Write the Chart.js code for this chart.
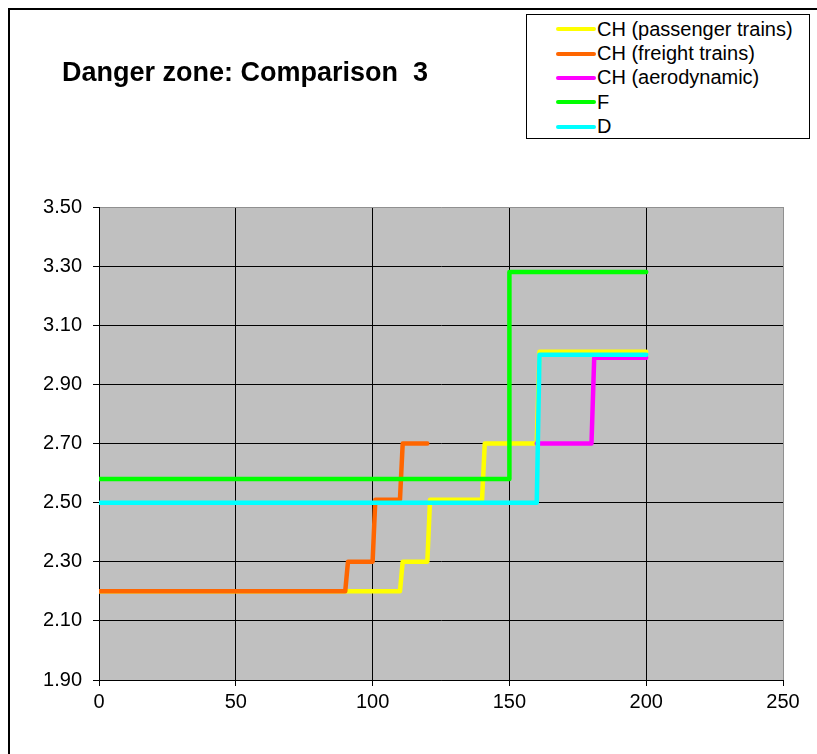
<!DOCTYPE html>
<html>
<head>
<meta charset="utf-8">
<script src="https://cdn.jsdelivr.net/npm/chart.js@4.4.1/dist/chart.umd.min.js"></script>
<style>
  body { margin: 0; background: #fff; font-family: "Liberation Sans", Arial, sans-serif; }
  #wrap { position: relative; width: 817px; height: 754px; overflow: hidden; }
  #frame { position: absolute; left: 8px; top: 8px; width: 900px; height: 900px; border-left: 2px solid #000; border-top: 2px solid #000; }
  #chartTitle { position: absolute; left: 62px; top: 57px; font-size: 27px; font-weight: bold; color: #000; white-space: pre; }
  #legendBox { position: absolute; left: 526px; top: 14px; width: 282px; height: 121px; border: 1px solid #000; background: #fff; padding-top: 2px; box-sizing: content-box; }
  .legItem { height: 24.4px; display: flex; align-items: center; font-size: 20px; color: #000; }
  .legLine { width: 40px; height: 4px; margin-left: 29px; margin-right: 1px; border-radius: 2px; }
</style>
</head>
<body>
<div id="wrap">
  <canvas id="chartDanger" width="817" height="754"></canvas>
  <div id="frame"></div>
  <div id="chartTitle">Danger zone: Comparison  3</div>
  <div id="legendBox"></div>
</div>
<script>
  /* Datos de la grafica */
  var seriesNames = ['CH (passenger trains)', 'CH (freight trains)', 'CH (aerodynamic)', 'F', 'D'];
  var seriesColors = ['#FFFF00', '#FF6600', '#FF00FF', '#00FF00', '#00FFFF'];

  var passengerX = [0, 110, 111, 120, 121, 140, 141, 160, 161, 200];
  var passengerY = [2.20, 2.20, 2.30, 2.30, 2.51, 2.51, 2.70, 2.70, 3.01, 3.01];

  var freightX = [0, 90, 91, 100, 101, 110, 111, 120];
  var freightY = [2.20, 2.20, 2.30, 2.30, 2.51, 2.51, 2.70, 2.70];

  var aeroX = [160, 180, 181, 200];
  var aeroY = [2.70, 2.70, 2.99, 2.99];

  var franceX = [0, 150, 150, 200];
  var franceY = [2.58, 2.58, 3.28, 3.28];

  var germanyX = [0, 160, 161, 200];
  var germanyY = [2.50, 2.50, 3.00, 3.00];

  var xTicks = [0, 50, 100, 150, 200, 250];
  var yTicks = [1.90, 2.10, 2.30, 2.50, 2.70, 2.90, 3.10, 3.30, 3.50];

  function toPoints(xs, ys) {
    let pts = [];
    for (let i = 0; i < xs.length; i++) pts.push({ x: xs[i], y: ys[i] });
    return pts;
  }

  var allX = [passengerX, freightX, aeroX, franceX, germanyX];
  var allY = [passengerY, freightY, aeroY, franceY, germanyY];

  let datasets = [];
  for (let i = 0; i < seriesNames.length; i++) {
    datasets.push({
      label: seriesNames[i],
      data: toPoints(allX[i], allY[i]),
      borderColor: seriesColors[i],
      backgroundColor: seriesColors[i],
      borderWidth: 4.5,
      pointRadius: 0,
      tension: 0,
      fill: false,
      borderJoinStyle: 'round',
      borderCapStyle: 'round',
      order: seriesNames.length - i,
    });
  }

  /* Leyenda */
  for (let i = 0; i < seriesNames.length; i++) {
    $item = document.createElement('div');
    $item.className = 'legItem';
    $item.innerHTML = `<span class="legLine" style="background:${seriesColors[i]}"></span><span>${seriesNames[i]}</span>`;
    document.getElementById('legendBox').appendChild($item);
  }

  const tickFont = { family: '"Liberation Sans", Arial, sans-serif', size: 20 };

  const cmc = document.getElementById('chartDanger');
  const chartDanger = new Chart(cmc, {
    type: 'line',
    data: { datasets: datasets },
    plugins: [{
      id: 'plotBg',
      beforeDraw: (chart) => {
        const a = chart.chartArea;
        chart.ctx.save();
        chart.ctx.fillStyle = '#C0C0C0';
        chart.ctx.fillRect(a.left, a.top, a.right - a.left, a.bottom - a.top);
        chart.ctx.restore();
      },
    }],
    options: {
      responsive: false,
      animation: false,
      layout: { padding: { left: 0, right: 34, top: 207, bottom: 0 } },
      scales: {
        x: {
          type: 'linear',
          min: 0,
          max: 250,
          afterFit: (scale) => { scale.height = 74; },
          afterBuildTicks: (scale) => { scale.ticks = xTicks.map((v) => ({ value: v })); },
          ticks: { font: tickFont, color: '#000', padding: 4, maxRotation: 0 },
          grid: {
            color: (ctx) => (ctx.tick && ctx.tick.value === 250 ? '#909090' : '#000'),
            tickColor: '#000',
            tickLength: 6,
            lineWidth: 1,
          },
          border: { color: '#000', width: 1 },
        },
        y: {
          type: 'linear',
          min: 1.9,
          max: 3.5,
          afterFit: (scale) => { scale.width = 99; },
          afterBuildTicks: (scale) => { scale.ticks = yTicks.map((v) => ({ value: v })); },
          ticks: {
            font: tickFont,
            color: '#000',
            padding: 11,
            callback: (value) => Number(value).toFixed(2),
          },
          grid: {
            color: (ctx) => (ctx.tick && ctx.tick.value === 3.5 ? '#909090' : '#000'),
            tickColor: '#000',
            tickLength: 6,
            lineWidth: 1,
          },
          border: { color: '#000', width: 1 },
        },
      },
      plugins: {
        legend: { display: false },
        title: { display: false },
        tooltip: { enabled: false },
      },
    },
  });
</script>
</body>
</html>
